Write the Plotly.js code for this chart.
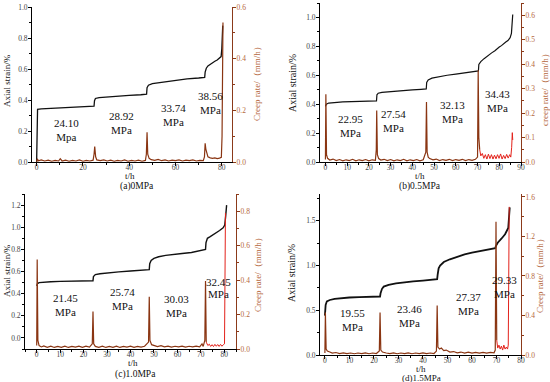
<!DOCTYPE html>
<html><head><meta charset="utf-8">
<script src="https://cdn.plot.ly/plotly-3.0.1.min.js"></script>
<style>html,body{margin:0;padding:0;background:#fff}#chart{width:550px;height:382px}</style>
</head><body><div id="chart"></div>
<script>
// ---------- data (t in h, strain in %, creep rate in mm/h) ----------
const strainA = [[0,0.0],[0.15,0.33],[0.4,0.34],[2,0.343],[5,0.345],[10,0.35],[15,0.352],[20,0.355],[24.8,0.36],[25,0.395],[25.4,0.41],[27,0.416],[30,0.42],[35,0.425],[40,0.43],[45,0.434],[47.5,0.437],[47.7,0.48],[48.3,0.495],[50,0.505],[55,0.516],[60,0.527],[65,0.536],[70,0.542],[72.6,0.546],[72.8,0.58],[73.3,0.605],[74,0.62],[75,0.632],[76,0.641],[77,0.65],[78,0.658],[79,0.668],[79.7,0.68],[80,0.73],[80.2,0.8],[80.4,0.88]];
const creepA = [[0,0],[0.3,0.012],[0.8,0.005],[2,0.008],[3.5,0.004],[5,0.007],[6.5,0.003],[8,0.006],[9.5,0.004],[10.2,0.013],[11,0.004],[12.5,0.007],[14,0.003],[15.5,0.006],[17,0.004],[18.5,0.008],[20,0.003],[21.5,0.006],[23,0.004],[24.4,0.007],[24.8,0.03],[25.1,0.06],[25.5,0.02],[26,0.008],[27.5,0.005],[29,0.008],[30.5,0.004],[32,0.007],[33.5,0.003],[35,0.006],[36.5,0.004],[38,0.008],[39.5,0.003],[41,0.006],[42.5,0.004],[44,0.007],[45.5,0.003],[47,0.006],[47.4,0.03],[47.7,0.115],[48,0.03],[48.6,0.014],[49.5,0.009],[51,0.006],[52.5,0.01],[54,0.005],[55.5,0.008],[57,0.004],[58.5,0.007],[60,0.005],[61.5,0.008],[63,0.004],[64.5,0.007],[66,0.005],[67.5,0.008],[69,0.004],[70.5,0.006],[72,0.005],[72.5,0.02],[72.8,0.072],[73.1,0.05],[73.5,0.03],[74,0.02],[75,0.016],[76,0.014],[77,0.016],[78,0.013],[79,0.015],[79.8,0.018],[80.1,0.1],[80.3,0.35],[80.5,0.54]];

const strainB = [[0,0.385],[0.4,0.4],[1.5,0.408],[4,0.413],[8,0.416],[12,0.418],[16,0.42],[20,0.421],[23.5,0.423],[23.7,0.465],[24.3,0.476],[26,0.482],[30,0.488],[35,0.494],[40,0.499],[44,0.503],[46.4,0.506],[46.6,0.55],[47.3,0.568],[49,0.58],[52,0.59],[56,0.6],[60,0.608],[64,0.616],[68,0.624],[70.4,0.63],[70.6,0.675],[71.5,0.695],[73,0.715],[75,0.74],[76.5,0.755],[78,0.77],[79,0.785],[80,0.795],[81,0.805],[82,0.82],[83,0.83],[84,0.84],[85,0.86],[85.6,0.89],[85.9,0.96],[86.2,1.02]];
const creepB = [[0,0.01],[0.2,0.277],[0.5,0.03],[1,0.015],[2,0.008],[3.5,0.012],[5,0.006],[6.5,0.01],[8,0.005],[9.5,0.009],[11,0.006],[12.5,0.011],[14,0.005],[15.5,0.009],[17,0.006],[18.5,0.01],[20,0.005],[21.5,0.009],[23,0.007],[23.4,0.05],[23.6,0.211],[23.9,0.03],[24.5,0.014],[25.5,0.008],[27,0.011],[28.5,0.006],[30,0.01],[31.5,0.005],[33,0.009],[34.5,0.006],[36,0.011],[37.5,0.005],[39,0.009],[40.5,0.006],[42,0.01],[43.5,0.005],[45,0.009],[46.2,0.04],[46.5,0.245],[46.8,0.04],[47.3,0.02],[48,0.014],[49.5,0.009],[51,0.012],[52.5,0.006],[54,0.01],[55.5,0.007],[57,0.011],[58.5,0.006],[60,0.01],[61.5,0.007],[63,0.011],[64.5,0.006],[66,0.01],[67.5,0.007],[69,0.011],[70,0.02],[70.3,0.375],[70.6,0.1],[71,0.05]];
const creepB4 = [[71,0.05],[71.5,0.025],[72.2,0.035],[72.9,0.015],[73.6,0.03],[74.3,0.012],[75,0.032],[75.7,0.014],[76.4,0.03],[77.1,0.012],[77.8,0.028],[78.5,0.013],[79.2,0.03],[79.9,0.015],[80.6,0.033],[81.3,0.012],[82,0.027],[82.7,0.014],[83.4,0.031],[84.1,0.016],[84.8,0.03],[85.3,0.02],[85.7,0.06],[86,0.12],[86.2,0.09]];

const strainC = [[0,0.47],[0.3,0.49],[1,0.5],[3,0.505],[6,0.508],[10,0.511],[15,0.513],[20,0.515],[24,0.517],[24.2,0.555],[25,0.572],[27,0.58],[30,0.588],[35,0.597],[40,0.605],[45,0.612],[48,0.617],[48.2,0.67],[48.8,0.7],[50,0.718],[52,0.733],[55,0.746],[58,0.755],[62,0.763],[66,0.772],[70,0.788],[72,0.8],[72.2,0.86],[72.8,0.9],[74,0.915],[76,0.94],[78,0.97],[79.5,0.995],[80.2,1.02],[80.6,1.1],[81,1.2]];
const creepC = [[0,0.02],[0.2,0.52],[0.5,0.05],[1,0.02],[2,0.012],[3,0.018],[4.5,0.01],[6,0.016],[7.5,0.009],[9,0.015],[10.5,0.01],[12,0.017],[13.5,0.009],[15,0.015],[16.5,0.011],[18,0.017],[19.5,0.01],[21,0.016],[22.5,0.011],[23.7,0.03],[24,0.218],[24.3,0.03],[25,0.015],[26.5,0.01],[28,0.016],[29.5,0.009],[31,0.015],[32.5,0.01],[34,0.017],[35.5,0.009],[37,0.015],[38.5,0.011],[40,0.016],[41.5,0.01],[43,0.015],[44.5,0.011],[46,0.016],[47.7,0.04],[48,0.303],[48.3,0.05],[49,0.025],[50,0.02],[51.5,0.014],[53,0.019],[54.5,0.012],[56,0.017],[57.5,0.011],[59,0.016],[60.5,0.012],[62,0.017],[63.5,0.011],[65,0.016],[66.5,0.012],[68,0.017],[69.5,0.013],[70.5,0.03],[71,0.015],[71.7,0.05],[72,0.395],[72.3,0.04]];
const creepC4 = [[72.3,0.04],[73,0.02],[73.6,0.028],[74.2,0.015],[74.8,0.025],[75.4,0.014],[76,0.027],[76.6,0.016],[77.2,0.026],[77.8,0.015],[78.4,0.027],[79,0.016],[79.6,0.025],[80.1,0.03],[80.3,0.4],[80.5,0.79]];

const strainD = [[0,0.44],[0.3,0.56],[0.8,0.6],[2,0.615],[4,0.628],[7,0.638],[10,0.643],[14,0.648],[18,0.651],[22.5,0.654],[22.7,0.69],[23.3,0.74],[24,0.765],[26,0.785],[29,0.8],[32,0.812],[36,0.823],[40,0.832],[45.8,0.848],[46,0.9],[46.4,0.97],[47,1.0],[48.5,1.04],[51,1.07],[54,1.1],[57,1.125],[60,1.145],[63,1.16],[66,1.175],[69.5,1.195],[69.8,1.22],[70.5,1.255],[72,1.3],[73.5,1.35],[74.8,1.42],[75.1,1.5],[75.4,1.65]];
const creepD = [[0,0.02],[0.2,0.43],[0.5,0.06],[1,0.04],[2,0.03],[3,0.02],[4.5,0.025],[6,0.015],[7.5,0.022],[9,0.014],[10.5,0.02],[12,0.013],[13.5,0.02],[15,0.014],[16.5,0.021],[18,0.013],[19.5,0.02],[21,0.015],[22.2,0.04],[22.5,0.43],[22.8,0.05],[23.5,0.03],[25,0.02],[26.5,0.014],[28,0.021],[29.5,0.013],[31,0.02],[32.5,0.014],[34,0.021],[35.5,0.013],[37,0.02],[38.5,0.015],[40,0.021],[41.5,0.014],[43,0.02],[44.5,0.015],[45.5,0.04],[45.8,0.5],[46.1,0.08],[46.8,0.06],[47.5,0.07],[48.5,0.045],[49.5,0.05],[51,0.03],[52.5,0.035],[54,0.022],[55.5,0.03],[57,0.02],[58.5,0.028],[60,0.02],[61.5,0.027],[63,0.02],[64.5,0.026],[66,0.02],[67.5,0.027],[69,0.022],[69.5,0.05],[69.8,1.35],[70.1,0.15]];
const creepD4 = [[70.1,0.15],[70.5,0.07],[71,0.1],[71.5,0.06],[72,0.09],[72.5,0.05],[73,0.1],[73.5,0.06],[74,0.08],[74.5,0.06],[74.8,0.1],[75,0.5],[75.2,1.5]];

const stressA = ["24.10<br>Mpa","28.92<br>MPa","33.74<br>MPa","38.56<br>MPa"];
const stressB = ["22.95<br>MPa","27.54<br>MPa","32.13<br>MPa","34.43<br>MPa"];
const stressC = ["21.45<br>MPa","25.74<br>MPa","30.03<br>MPa"];
const stressD = ["19.55<br>MPa","23.46<br>MPa","27.37<br>MPa","29.33<br>MPa"];
const captions = ["(a)0MPa","(b)0.5MPa","(c)1.0MPa","(d)1.5MPa"];

// ---------- styling ----------
const SERIF = "Liberation Serif, Times New Roman, serif";
const BROWN = "#8b3a1a";
const BROWN_TXT = "#b5683e";
const CREEP = "#8a3512";
const RED = "#e3221b";

const xs = p => p.map(d => d[0]);
const ys = p => p.map(d => d[1]);

function line(p, xa, ya, color, w) {
  return {x: xs(p), y: ys(p), xaxis: xa, yaxis: ya, type: 'scatter', mode: 'lines',
    line: {color: color, width: w}, hoverinfo: 'skip', showlegend: false};
}

const traces = [
  line(creepA, 'x', 'y2', CREEP, 1.2), line(strainA, 'x', 'y', '#111', 1.3),
  line(creepB, 'x2', 'y4', CREEP, 1.2), line(creepB4, 'x2', 'y4', RED, 1), line(strainB, 'x2', 'y3', '#111', 1.2),
  line(creepC, 'x3', 'y6', CREEP, 1.2), line(creepC4, 'x3', 'y6', RED, 1), line(strainC, 'x3', 'y5', '#111', 1.4),
  line(creepD, 'x4', 'y8', CREEP, 1.2), line(creepD4, 'x4', 'y8', RED, 1), line(strainD, 'x4', 'y7', '#111', 1.8)
];

const tickfont = {family: SERIF, size: 7.5, color: '#444'};
function xax(domain, range, dtick, anchor) {
  return {domain, range, dtick, tick0: 0, anchor, showline: true, linecolor: '#000', linewidth: 1,
    ticks: 'outside', ticklen: 3, tickcolor: '#000', tickfont, ticklabelstandoff: -5,
    showgrid: false, zeroline: false,
    minor: {ticks: 'outside', ticklen: 2, dtick: dtick / 2, tickcolor: '#000'}};
}
function yl(domain, range, dtick, anchor) {
  return {domain, range, dtick, tick0: 0, anchor, showline: true, linecolor: '#000', linewidth: 1,
    ticks: 'outside', ticklen: 3, tickcolor: '#000', tickfont, tickformat: '.1f', ticklabelstandoff: -1,
    showgrid: false, zeroline: false, minor: {ticks: 'outside', ticklen: 2, dtick: dtick / 2, tickcolor: '#000'}};
}
function yr(over, range, dtick, anchor) {
  return {overlaying: over, side: 'right', range, dtick, tick0: 0, anchor, showline: true,
    linecolor: BROWN, linewidth: 1, ticks: 'outside', ticklen: 3, tickcolor: BROWN,
    tickfont: {family: SERIF, size: 7.5, color: BROWN_TXT}, tickformat: '.1f', ticklabelstandoff: -1,
    showgrid: false, zeroline: false, minor: {ticks: 'outside', ticklen: 2, dtick: dtick / 2, tickcolor: BROWN}};
}

const W = 550, H = 382;
const px = v => v / W, py = v => 1 - v / H;

const layout = {
  width: W, height: H, margin: {l: 0, r: 0, t: 0, b: 0},
  paper_bgcolor: '#fff', plot_bgcolor: 'rgba(0,0,0,0)', showlegend: false,
  xaxis:  xax([px(32), px(232)], [-2, 84.4], 20, 'y'),
  yaxis:  yl([py(162), py(7)], [0, 1.0], 0.2, 'x'),
  yaxis2: yr('y', [0, 0.6], 0.2, 'x'),
  xaxis2: xax([px(320), px(521)], [-2.5, 90], 10, 'y3'),
  yaxis3: yl([py(162), py(3)], [0, 1.1], 0.2, 'x2'),
  yaxis4: yr('y3', [0, 0.65], 0.1, 'x2'),
  xaxis3: xax([px(25), px(236)], [-5, 85], 10, 'y5'),
  yaxis5: yl([py(349), py(194)], [-0.1, 1.3], 0.2, 'x3'),
  yaxis6: yr('y5', [0, 0.9], 0.2, 'x3'),
  xaxis4: xax([px(320), px(521)], [-2, 80], 10, 'y7'),
  yaxis7: yl([py(355), py(194)], [0, 1.8], 0.5, 'x4'),
  yaxis8: yr('y7', [0, 1.63], 0.4, 'x4'),
  annotations: []
};

const ann = layout.annotations;
function dataTxt(text, x, y, xr, yrf) {
  ann.push({text, x, y, xref: xr, yref: yrf, showarrow: false,
    font: {family: SERIF, size: 11, color: '#111'}, align: 'center'});
}
// stress labels
[[13, 0.205], [36.8, 0.253], [59, 0.301], [75.3, 0.379]].forEach((p, i) => dataTxt(stressA[i], p[0], p[1], 'x', 'y'));
[[11.5, 0.246], [31.3, 0.285], [58.5, 0.344], [79.3, 0.424]].forEach((p, i) => dataTxt(stressB[i], p[0], p[1], 'x2', 'y3'));
[[12.1, 0.30], [36.4, 0.349], [59.8, 0.288]].forEach((p, i) => dataTxt(stressC[i], p[0], p[1], 'x3', 'y5'));
dataTxt("32.45", 77.6, 0.505, 'x3', 'y5');
dataTxt("MPa", 77.6, 0.395, 'x3', 'y5');
[[11.4, 0.386], [34.7, 0.44], [58.4, 0.574], [73.1, 0.76]].forEach((p, i) => dataTxt(stressD[i], p[0], p[1], 'x4', 'y7'));

function paperTxt(text, x, y, size, color, angle) {
  ann.push({text, x: px(x), y: py(y), xref: 'paper', yref: 'paper', showarrow: false,
    xanchor: 'center', yanchor: 'middle', textangle: angle || 0, borderpad: 0,
    font: {family: SERIF, size, color: color || '#111'}});
}
// x titles and captions
paperTxt("t/h", 130, 175.5, 9); paperTxt(captions[0], 137, 186.5, 9.5);
paperTxt("t/h", 420, 175.5, 9); paperTxt(captions[1], 420, 186.5, 9.5);
paperTxt("t/h", 133, 363, 9); paperTxt(captions[2], 135, 374, 9.5);
paperTxt("t/h", 421, 369, 9); paperTxt(captions[3], 421, 378, 9);
// y titles
paperTxt("Axial strain/%", 7, 81, 9, '#111', -90);
paperTxt("Axial strain/%", 292, 83, 10, '#111', -90);
paperTxt("Axial strain/%", 7, 271, 9, '#111', -90);
paperTxt("Axial strain/%", 291, 273, 10, '#111', -90);
paperTxt("Creep rate/（mm/h）", 257, 82, 9, BROWN_TXT, -90);
paperTxt("creep rate/（mm/h）", 545, 88, 9, BROWN_TXT, -90);
paperTxt("Creep rate/（mm/h）", 258, 273, 9, BROWN_TXT, -90);
paperTxt("Creep rate/（mm/h）", 540, 274, 9, BROWN_TXT, -90);

Plotly.newPlot('chart', traces, layout, {displayModeBar: false, staticPlot: true});
</script></body></html>
